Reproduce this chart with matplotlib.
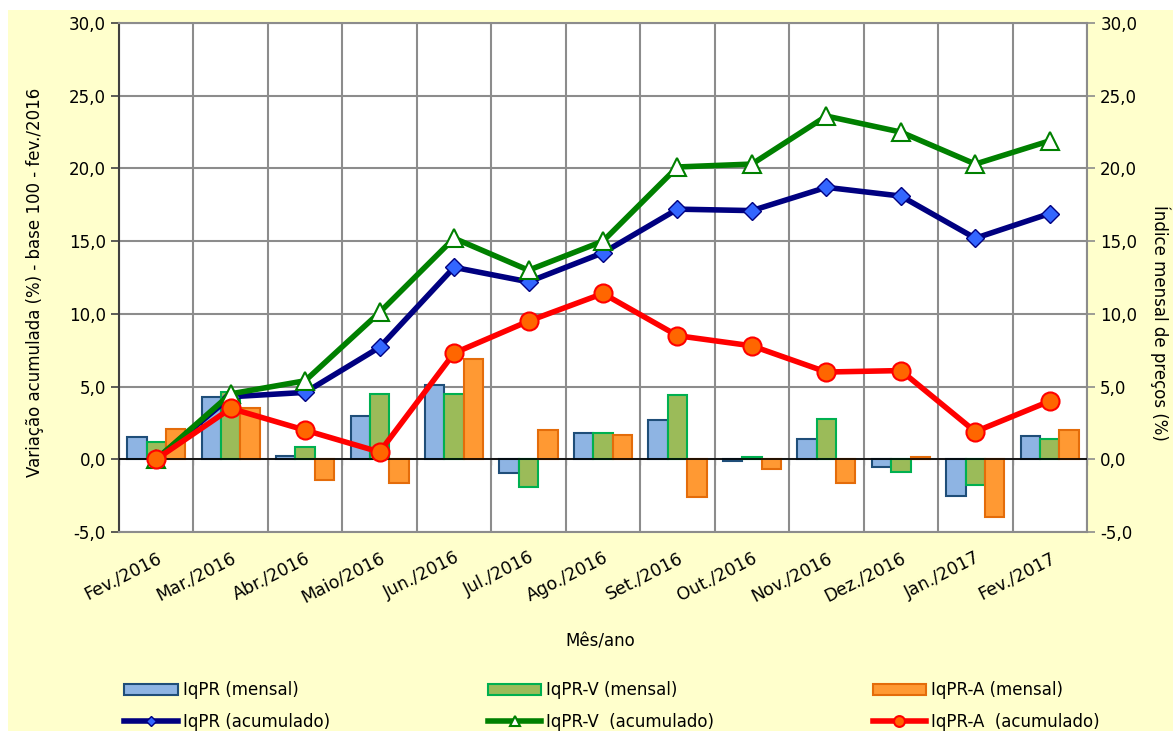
import matplotlib
matplotlib.use("Agg")
import matplotlib.pyplot as plt
import numpy as np
from matplotlib.patches import Rectangle

months = ["Fev./2016", "Mar./2016", "Abr./2016", "Maio/2016", "Jun./2016", "Jul./2016",
          "Ago./2016", "Set./2016", "Out./2016", "Nov./2016", "Dez./2016", "Jan./2017",
          "Fev./2017"]

# monthly indices (bars)
iqpr_m = [1.5, 4.3, 0.25, 3.0, 5.1, -0.95, 1.8, 2.7, -0.15, 1.4, -0.55, -2.5, 1.6]
iqprv_m = [1.2, 4.6, 0.85, 4.5, 4.5, -1.9, 1.8, 4.4, 0.15, 2.75, -0.9, -1.8, 1.4]
iqpra_m = [2.1, 3.5, -1.45, -1.6, 6.9, 2.0, 1.7, -2.6, -0.7, -1.65, 0.15, -4.0, 2.0]

# accumulated (lines)
iqpr_ac = [0.0, 4.3, 4.6, 7.7, 13.2, 12.2, 14.2, 17.2, 17.1, 18.7, 18.1, 15.2, 16.9]
iqprv_ac = [0.0, 4.5, 5.4, 10.1, 15.2, 13.0, 15.0, 20.1, 20.3, 23.6, 22.5, 20.3, 21.9]
iqpra_ac = [0.0, 3.5, 2.0, 0.5, 7.3, 9.5, 11.4, 8.5, 7.8, 6.0, 6.1, 1.9, 4.0]

yticks = np.arange(-5, 31, 5)
ylabels = [f"{v:.1f}".replace(".", ",") for v in yticks]

plt.rcParams['font.family'] = ['DejaVu Sans']

fig = plt.figure(figsize=(11.73, 7.31), dpi=100)
fig.patch.set_facecolor("white")
fig.patches.append(Rectangle((8/1173, 0), 1, 1 - 10/731, transform=fig.transFigure,
                             facecolor="#FFFFCC", edgecolor="none", zorder=-10))

ax = fig.add_axes([119/1173, 1 - 532/731, 968/1173, 509/731])
ax.set_facecolor("white")
x = np.arange(len(months))
w = 0.26

b1 = ax.bar(x - w, iqpr_m, w, color="#8EB4E3", edgecolor="#1F4E79", linewidth=1.5,
            label="IqPR (mensal)", zorder=2)
b2 = ax.bar(x, iqprv_m, w, color="#9BBB59", edgecolor="#00B050", linewidth=1.5,
            label="IqPR-V (mensal)", zorder=2)
b3 = ax.bar(x + w, iqpra_m, w, color="#FF9933", edgecolor="#E46C0A", linewidth=1.5,
            label="IqPR-A (mensal)", zorder=2)

l1, = ax.plot(x, iqpr_ac, color="#000080", lw=4, marker="D", ms=9, mfc="#3366FF",
              mec="#000080", mew=1, label="IqPR (acumulado)", zorder=4)
l2, = ax.plot(x, iqprv_ac, color="#008000", lw=4, marker="^", ms=13, mfc="white",
              mec="#008000", mew=1.5, label="IqPR-V  (acumulado)", zorder=4)
l3, = ax.plot(x, iqpra_ac, color="#FF0000", lw=4, marker="o", ms=13, mfc="#FF6600",
              mec="#FF0000", mew=1.5, label="IqPR-A  (acumulado)", zorder=5)

ax.set_xlim(-0.5, len(months) - 0.5)
ax.set_ylim(-5, 30)
ax.set_yticks(yticks)
ax.set_yticklabels(ylabels, fontsize=12)
ax.set_xticks(x)
ax.set_xticklabels(months, fontsize=12.5, rotation=27, ha="right", rotation_mode="anchor")
ax.tick_params(axis="x", length=0, pad=12)
ax.tick_params(axis="y", direction="out", length=6, color="#404040", width=1.2)
ax.set_xticks(np.arange(-0.5, len(months), 1), minor=True)
ax.tick_params(axis="x", which="minor", length=0)
ax.grid(True, which="minor", axis="x", color="#8C8C8C", lw=1.5, zorder=0)
ax.grid(True, which="major", axis="y", color="#8C8C8C", lw=1.5, zorder=0)
for s in ax.spines.values():
    s.set_color("#8C8C8C")
    s.set_linewidth(1.5)
ax.spines["left"].set_color("#404040")

# zero line with ticks
ax.axhline(0, color="black", lw=1.2, zorder=3)
sec = ax.secondary_xaxis(5 / 35)
sec.set_xticks(np.arange(-0.5, len(months), 1))
sec.set_xticklabels([])
sec.tick_params(direction="out", length=4, color="black")
sec.spines["bottom"].set_visible(False)

ax2 = ax.twinx()
ax2.set_ylim(-5, 30)
ax2.set_yticks(yticks)
ax2.set_yticklabels(ylabels, fontsize=12)
ax2.tick_params(axis="y", direction="out", length=6, color="#8C8C8C", width=1.2)
for s in ax2.spines.values():
    s.set_visible(False)

fig.text(35/1173, 1 - 282/731, "Variação acumulada (%) - base 100 - fev./2016",
         rotation=90, ha="center", va="center", fontsize=12)
fig.text(1160/1173, 1 - 323/731, "Índice mensal de preços (%)",
         rotation=270, ha="center", va="center", fontsize=12)
fig.text(600/1173, 1 - 641/731, "Mês/ano", ha="center", va="center", fontsize=12)

handles = [b1, l1, b2, l2, b3, l3]
fig.legend(handles, [hh.get_label() for hh in handles], ncol=3, loc="center",
           bbox_to_anchor=(612/1173, 1 - 706/731), frameon=False, fontsize=12,
           handlelength=3.2, columnspacing=9.5, handletextpad=0.3, labelspacing=0.8,
           markerscale=0.6)

fig.savefig("out.png", dpi=100, facecolor=fig.get_facecolor())
